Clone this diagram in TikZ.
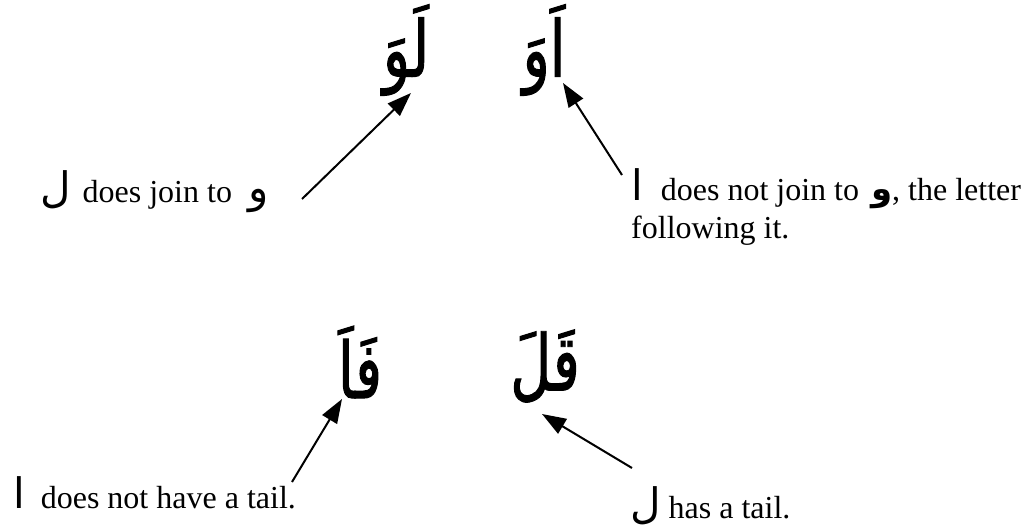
\documentclass[tikz,border=0pt]{standalone}
\usepackage{fontspec}
\setmainfont{Liberation Serif}
\newfontfamily\arabicfont[Script=Arabic]{DejaVu Sans}
\newfontfamily\arabicbig[Script=Arabic,FakeStretch=0.72,FakeBold=1.2]{DejaVu Sans}
\TeXXeTstate=1
\usetikzlibrary{arrows.meta}
\newcommand{\arl}[1]{{\fontsize{42}{42}\selectfont\arabicfont #1}}
\begin{document}
\begin{tikzpicture}[x=1pt,y=-1pt,
  word/.style={inner sep=0pt, font=\fontsize{78}{90}\selectfont\arabicbig},
  lbl/.style={inner sep=0pt, anchor=base west, font=\fontsize{32}{38}\selectfont},
  pointer/.style={line width=2pt, -{Triangle[length=24pt,width=17pt]}}]
\useasboundingbox (0,0) rectangle (1026,527);
% Arabic words
\node[word] (w1) at (406,50) {\beginR لَوَ\endR};
\node[word] (w2) at (544,50) {\beginR اَوَ\endR};
\node[word] (w3) at (360,362) {\beginR فَاَ\endR};
\node[word] (w4) at (545,366) {\beginR قَلَ\endR};
% labels
\node[lbl] (t1) at (40,202) {\arl{ل}\hspace{12pt}does join to\hspace{16pt}\arl{و}};
\node[lbl] (t2) at (631,200) {\arl{ا}\hspace{18pt}does not join to\hspace{12pt}{\fontsize{34}{34}\selectfont\arabicfont\bfseries و}, the letter};
\node[lbl] (t2b) at (631,238) {following it.};
\node[lbl] (t3) at (13,508) {\arl{ا}\hspace{16pt}does not have a tail.};
\node[lbl] (t4) at (630,518) {\arl{ل}\hspace{8pt}has a tail.};
% arrows
\coordinate (a1s) at (302,199); \coordinate (a1e) at (411,93);
\coordinate (a2s) at (622,175); \coordinate (a2e) at (563,83);
\coordinate (a3s) at (292,482); \coordinate (a3e) at (342,399);
\coordinate (a4s) at (632,468); \coordinate (a4e) at (542,414);
\draw[pointer] (a1s) -- (a1e);
\draw[pointer] (a2s) -- (a2e);
\draw[pointer] (a3s) -- (a3e);
\draw[pointer] (a4s) -- (a4e);
\end{tikzpicture}
\end{document}
